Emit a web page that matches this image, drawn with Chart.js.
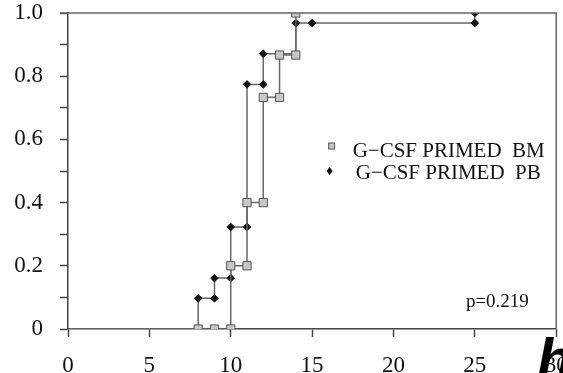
<!DOCTYPE html>
<html>
<head>
<meta charset="utf-8">
<script src="https://cdn.jsdelivr.net/npm/chart.js@4.4.1/dist/chart.umd.min.js"></script>
<style>
  html, body { margin: 0; padding: 0; background: #fff; }
  #wrap { width: 563px; height: 373px; }
</style>
</head>
<body>
<div id="wrap"><canvas id="kmChart" width="563" height="373"></canvas></div>
<script>
// time (x) and cumulative fraction (y)
const bmTimes = [0, 8, 9, 10, 10, 11, 11, 12, 12, 13, 13, 14, 14];
const bmValues = [0, 0, 0, 0, 0.2, 0.2, 0.4, 0.4, 0.733, 0.733, 0.867, 0.867, 1.0];

const pbTimes = [0, 8, 9, 9, 10, 10, 11, 11, 12, 12, 14, 15, 25, 25];
const pbValues = [0, 0.097, 0.097, 0.161, 0.161, 0.323, 0.323, 0.774, 0.774, 0.871, 0.968, 0.968, 0.968, 1.0];

const seriesLabels = ['G\u2212CSF PRIMED  BM', 'G\u2212CSF PRIMED  PB'];
const pValueText = 'p=0.219';

const xTicks = [0, 5, 10, 15, 20, 25, 30];
const yTicks = [0, 0.1, 0.2, 0.3, 0.4, 0.5, 0.6, 0.7, 0.8, 0.9, 1.0];
const yTickLabels = ['0', '', '0.2', '', '0.4', '', '0.6', '', '0.8', '', '1.0'];

const SERIF = '"Liberation Serif", "Times New Roman", serif';
const LINE = '#666';
const AXIS = '#444';
const TEXT = '#111';

function toPoints(xs, ys) {
    return xs.map((x, i) => ({ x: x, y: ys[i] }));
}

// top/right frame, legend box, p value and the stray scan glyph
const extrasPlugin = {
    id: 'extras',
    afterDatasetsDraw(chart) {
        const ctx = chart.ctx;
        const area = chart.chartArea;
        const xs = chart.scales.x;
        const ys = chart.scales.y;

        ctx.save();
        ctx.strokeStyle = LINE;
        ctx.lineWidth = 1.5;
        ctx.beginPath();
        ctx.moveTo(area.left - 8, area.top);
        ctx.lineTo(area.right, area.top);
        ctx.lineTo(area.right, area.bottom);
        ctx.stroke();

        // legend
        const lx = xs.getPixelForValue(16.2);
        const ly1 = ys.getPixelForValue(0.579);
        const ly2 = ys.getPixelForValue(0.5);
        ctx.fillStyle = '#c8c8c8';
        ctx.strokeStyle = '#555';
        ctx.lineWidth = 1;
        ctx.fillRect(lx - 3, ly1 - 3, 6, 6);
        ctx.strokeRect(lx - 3, ly1 - 3, 6, 6);

        ctx.fillStyle = '#111';
        ctx.beginPath();
        ctx.moveTo(lx - 2, ly2 - 4);
        ctx.lineTo(lx + 1, ly2);
        ctx.lineTo(lx - 2, ly2 + 4);
        ctx.lineTo(lx - 5, ly2);
        ctx.closePath();
        ctx.fill();

        ctx.fillStyle = TEXT;
        ctx.font = '21px ' + SERIF;
        ctx.textBaseline = 'alphabetic';
        ctx.textAlign = 'left';
        ctx.fillText(seriesLabels[0], lx + 21, ly1 + 11);
        ctx.fillText(seriesLabels[1], lx + 24, ly2 + 8);

        ctx.font = '19px ' + SERIF;
        ctx.fillText(pValueText, xs.getPixelForValue(24.45), ys.getPixelForValue(0.07));

        ctx.font = 'bold italic 58px "Liberation Sans", Arial, sans-serif';
        ctx.fillStyle = '#000';
        ctx.fillText('h', 537, 379);
        ctx.restore();
    }
};

document.addEventListener('DOMContentLoaded', () => {
    const ctx = document.getElementById('kmChart');

    new Chart(ctx, {
        type: 'line',
        data: {
            datasets: [
                {
                    label: seriesLabels[0],
                    data: toPoints(bmTimes, bmValues),
                    stepped: 'before',
                    borderColor: LINE,
                    borderWidth: 1.5,
                    pointStyle: 'rect',
                    pointRadius: c => (c.dataIndex === 0 ? 0 : 5.8),
                    pointBackgroundColor: '#c8c8c8',
                    pointBorderColor: '#555',
                    pointBorderWidth: 1,
                    fill: false
                },
                {
                    label: seriesLabels[1],
                    data: toPoints(pbTimes, pbValues),
                    stepped: 'before',
                    borderColor: LINE,
                    borderWidth: 1.5,
                    pointStyle: 'rectRot',
                    pointRadius: c => (c.dataIndex === 0 ? 0 : 3.8),
                    pointBackgroundColor: '#111',
                    pointBorderColor: '#111',
                    pointBorderWidth: 1,
                    fill: false
                }
            ]
        },
        options: {
            responsive: false,
            animation: false,
            layout: { padding: { top: 13, right: 2, left: 0, bottom: 0 } },
            plugins: {
                legend: { display: false },
                tooltip: { enabled: false }
            },
            scales: {
                x: {
                    type: 'linear',
                    min: 0,
                    max: 30,
                    afterBuildTicks: s => { s.ticks = xTicks.map(v => ({ value: v })); },
                    afterFit: s => { s.height = 44; s.paddingLeft = 0; s.paddingRight = 0; },
                    grid: { display: true, drawOnChartArea: false, tickLength: 8, tickColor: AXIS, tickWidth: 1.5 },
                    border: { display: true, color: AXIS, width: 1.5 },
                    ticks: {
                        maxRotation: 0,
                        padding: 15,
                        color: TEXT,
                        font: { family: SERIF, size: 23 },
                        callback: v => String(v)
                    }
                },
                y: {
                    type: 'linear',
                    min: 0,
                    max: 1,
                    afterBuildTicks: s => { s.ticks = yTicks.map(v => ({ value: v })); },
                    afterFit: s => { s.width = 68; s.paddingTop = 0; s.paddingBottom = 0; },
                    grid: { display: true, drawOnChartArea: false, tickLength: 8, tickColor: AXIS, tickWidth: 1.5 },
                    border: { display: true, color: AXIS, width: 1.5 },
                    ticks: {
                        padding: 17,
                        color: TEXT,
                        font: { family: SERIF, size: 23 },
                        callback: (v, i) => yTickLabels[i]
                    }
                }
            }
        },
        plugins: [extrasPlugin]
    });
});
</script>
</body>
</html>
